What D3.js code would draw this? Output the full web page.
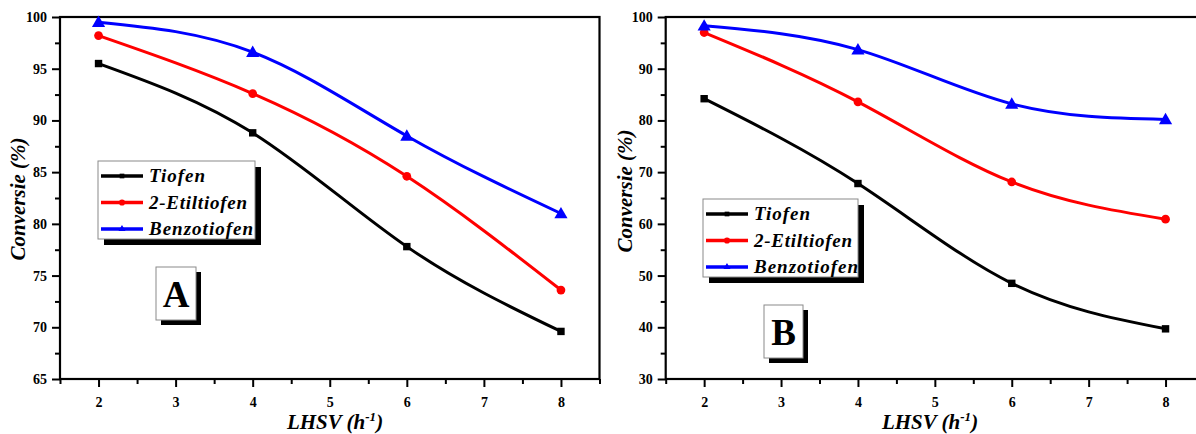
<!DOCTYPE html>
<html><head><meta charset="utf-8">
<script src="https://cdn.jsdelivr.net/npm/d3@7/dist/d3.min.js"></script>
<style>
html,body{margin:0;padding:0;background:#fff;}
svg{display:block;}
text{font-family:"Liberation Serif","Times New Roman",serif;font-weight:bold;}
</style></head>
<body>
<svg id="chart" width="1196" height="434"></svg>
<script>
// ---- data ----
const lhsv = [2, 4, 6, 8];
const seriesNames = ["Tiofen", "2-Etiltiofen", "Benzotiofen"];
const tiofenA = [95.5, 88.8, 77.8, 69.6];
const etiltiofenA = [98.2, 92.6, 84.6, 73.6];
const benzotiofenA = [99.5, 96.6, 88.5, 81.0];
const tiofenB = [84.2, 67.8, 48.5, 39.7];
const etiltiofenB = [97.0, 83.6, 68.1, 60.9];
const benzotiofenB = [98.3, 93.7, 83.2, 80.2];
const xTicks = [2, 3, 4, 5, 6, 7, 8];
const yTicksA = [65, 70, 75, 80, 85, 90, 95, 100];
const yTicksB = [30, 40, 50, 60, 70, 80, 90, 100];
const panelLabels = ["A", "B"];
const xTitle = "LHSV (h";
const yTitle = "Conversie (%)";

// ---- styles / layout ----
const colors = ["#000000", "#ff0000", "#0000ff"];
const markers = [d3.symbolSquare, d3.symbolCircle, d3.symbolTriangle];
const markerSizes = [55, 60, 75];

const panels = [
  { label: panelLabels[0], series: [tiofenA, etiltiofenA, benzotiofenA], yTicks: yTicksA,
    yDomain: [65, 100], x0: 60, x1: 599.5, y0: 17, y1: 379,
    legend: { x: 98, y: 161, w: 157, h: 78 }, box: { x: 156, y: 267, w: 40, h: 53 },
    yTitleX: 25, yTitleY: 199, xTitleX: 335 },
  { label: panelLabels[1], series: [tiofenB, etiltiofenB, benzotiofenB], yTicks: yTicksB,
    yDomain: [30, 100], x0: 665.7, x1: 1204, y0: 17, y1: 379,
    legend: { x: 703, y: 199, w: 155, h: 78 }, box: { x: 764, y: 305, w: 39, h: 53 },
    yTitleX: 632, yTitleY: 191, xTitleX: 930 }
];

const svg = d3.select("#chart");

panels.forEach(p => {
  const x = d3.scaleLinear().domain([1.5, 8.5]).range([p.x0, p.x1]);
  const y = d3.scaleLinear().domain(p.yDomain).range([p.y1, p.y0]);
  const g = svg.append("g");
  const step = p.yTicks[1] - p.yTicks[0];
  const yMinor = d3.range(p.yDomain[0] + step / 2, p.yDomain[1], step);
  const xMinor = d3.range(1.5, 8.6, 1);

  // minor ticks
  g.append("g").attr("transform", `translate(0,${p.y1})`)
    .call(d3.axisBottom(x).tickValues(xMinor).tickSize(5).tickSizeOuter(0).tickFormat(""))
    .call(a => a.select(".domain").remove())
    .call(a => a.selectAll("line").attr("stroke-width", 2));
  g.append("g").attr("transform", `translate(${p.x0},0)`)
    .call(d3.axisLeft(y).tickValues(yMinor).tickSize(5).tickSizeOuter(0).tickFormat(""))
    .call(a => a.select(".domain").remove())
    .call(a => a.selectAll("line").attr("stroke-width", 2));

  // major ticks
  const xa = g.append("g").attr("transform", `translate(0,${p.y1})`)
    .call(d3.axisBottom(x).tickValues(xTicks).tickSize(8).tickSizeOuter(0).tickPadding(10).tickFormat(d3.format("d")));
  xa.select(".domain").remove();
  xa.selectAll("line").attr("stroke-width", 2);
  xa.selectAll("text").attr("font-size", 14).attr("fill", "#000")
    .attr("font-family", "Liberation Serif").attr("font-weight", "bold");
  const ya = g.append("g").attr("transform", `translate(${p.x0},0)`)
    .call(d3.axisLeft(y).tickValues(p.yTicks).tickSize(8).tickSizeOuter(0).tickPadding(5).tickFormat(d3.format("d")));
  ya.select(".domain").remove();
  ya.selectAll("line").attr("stroke-width", 2);
  ya.selectAll("text").attr("font-size", 14).attr("fill", "#000")
    .attr("font-family", "Liberation Serif").attr("font-weight", "bold");

  // frame
  g.append("rect").attr("x", p.x0).attr("y", p.y0)
    .attr("width", p.x1 - p.x0).attr("height", p.y1 - p.y0)
    .attr("fill", "none").attr("stroke", "#000").attr("stroke-width", 2.2);

  // lines
  const line = d3.line().x((d, i) => x(lhsv[i])).y(d => y(d)).curve(d3.curveNatural);
  p.series.forEach((s, k) => {
    g.append("path").datum(s).attr("d", line).attr("fill", "none")
      .attr("stroke", colors[k]).attr("stroke-width", 3);
  });
  p.series.forEach((s, k) => {
    g.selectAll(null).data(s).enter().append("path")
      .attr("d", d3.symbol().type(markers[k]).size(markerSizes[k]))
      .attr("transform", (d, i) => `translate(${x(lhsv[i])},${y(d) + (k === 2 ? 1 : 0)})`)
      .attr("fill", colors[k]);
  });

  // legend
  const L = p.legend;
  g.append("rect").attr("x", L.x + 6).attr("y", L.y + 6).attr("width", L.w).attr("height", L.h).attr("fill", "#000");
  g.append("rect").attr("x", L.x).attr("y", L.y).attr("width", L.w).attr("height", L.h)
    .attr("fill", "#fff").attr("stroke", "#8a8a8a").attr("stroke-width", 1);
  const textLens = [56, 98, 104];
  seriesNames.forEach((n, k) => {
    const ry = L.y + 15 + k * 26.5;
    g.append("line").attr("x1", L.x + 3).attr("x2", L.x + 45).attr("y1", ry).attr("y2", ry)
      .attr("stroke", colors[k]).attr("stroke-width", 3.5);
    g.append("path").attr("d", d3.symbol().type(markers[k]).size(k === 1 ? 30 : 22))
      .attr("transform", `translate(${L.x + 24},${ry})`).attr("fill", colors[k]);
    g.append("text").attr("x", L.x + 51).attr("y", ry + 6)
      .attr("font-size", 19).attr("font-style", "italic")
      .attr("textLength", textLens[k]).attr("lengthAdjust", "spacing")
      .text(n);
  });

  // panel label box
  const B = p.box;
  g.append("rect").attr("x", B.x + 5).attr("y", B.y + 5).attr("width", B.w).attr("height", B.h).attr("fill", "#000");
  g.append("rect").attr("x", B.x).attr("y", B.y).attr("width", B.w).attr("height", B.h)
    .attr("fill", "#fff").attr("stroke", "#8a8a8a").attr("stroke-width", 1);
  g.append("text").attr("x", B.x + B.w / 2).attr("y", B.y + B.h / 2 + 13)
    .attr("text-anchor", "middle").attr("font-size", 37).text(p.label);

  // axis titles
  const xt = g.append("text").attr("x", p.xTitleX).attr("y", 429)
    .attr("text-anchor", "middle").attr("font-size", 21).attr("font-style", "italic");
  xt.append("tspan").text(xTitle);
  xt.append("tspan").attr("font-size", 13).attr("dy", -8).text("-1");
  xt.append("tspan").attr("dy", 8).text(")");
  g.append("text").attr("transform", `translate(${p.yTitleX},${p.yTitleY}) rotate(-90)`)
    .attr("text-anchor", "middle").attr("font-size", 21).attr("font-style", "italic")
    .text(yTitle);
});
</script>
</body></html>
